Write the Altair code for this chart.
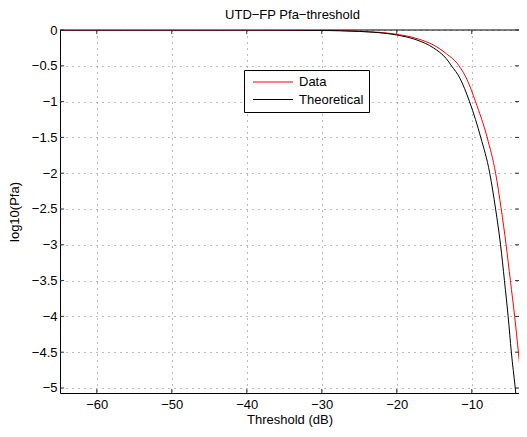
import altair as alt
import pandas as pd

# ---- data ----
title_text = "UTD−FP Pfa−threshold"
x_title = "Threshold (dB)"
y_title = "log10(Pfa)"
series_names = ["Data", "Theoretical"]
series_colors = ["#ff0000", "#000000"]

data_x = [-64.9, -50, -40, -35, -30, -25, -20, -17.3, -15.1, -13.4, -11.7, -10.6, -9.5,
          -7.95, -6.82, -6.07, -5.42, -4.85, -4.28, -3.78, -3.5]
data_y = [0, 0, 0, -0.002, -0.005, -0.018, -0.06, -0.12, -0.21, -0.33, -0.5, -0.7, -1.0,
          -1.5, -2.0, -2.5, -3.0, -3.5, -4.0, -4.5, -4.8]

theo_x = [-64.9, -50, -40, -35, -30, -25, -20, -17.3, -15.1, -13.4, -12.7, -11.6, -10.3,
          -9.5, -8.8, -7.6, -6.82, -6.16, -5.64, -5.15, -4.72, -4.2, -4.0]
theo_y = [0, 0, 0, -0.002, -0.006, -0.02, -0.07, -0.14, -0.25, -0.4, -0.5, -0.67, -1.0,
          -1.25, -1.5, -2.0, -2.5, -3.0, -3.5, -4.0, -4.5, -5.0, -5.2]

x_ticks = [-60, -50, -40, -30, -20, -10]
y_ticks = [0, -0.5, -1, -1.5, -2, -2.5, -3, -3.5, -4, -4.5, -5]
x_domain = [-64.9, -3.7]
y_domain = [-5.07, 0]

# ---- build tables ----
df = pd.concat([
    pd.DataFrame({"x": data_x, "y": data_y, "series": series_names[0]}),
    pd.DataFrame({"x": theo_x, "y": theo_y, "series": series_names[1]}),
], ignore_index=True)
xt = pd.DataFrame({"x": x_ticks})
yt = pd.DataFrame({"y": y_ticks})
top = pd.DataFrame({"y": [y_domain[1]]})

FONT = "Liberation Sans"
W, H = 459, 363
TL = 4

xs = alt.Scale(domain=x_domain, nice=False, zero=False)
ys = alt.Scale(domain=y_domain, nice=False, zero=False)
x_axis = alt.Axis(values=x_ticks, title=x_title, grid=True, ticks=False, tickSize=0,
                  labelPadding=5, titlePadding=2.5)
y_axis = alt.Axis(values=y_ticks, format="~g", title=y_title, grid=True, ticks=False,
                  tickSize=0, labelPadding=3, titlePadding=10)
X = alt.X("x:Q", scale=xs, axis=x_axis)
Y = alt.Y("y:Q", scale=ys, axis=y_axis)

lines = alt.Chart(df).mark_line(clip=True, strokeWidth=1, interpolate="monotone").encode(
    x=X, y=Y,
    color=alt.Color("series:N",
                    scale=alt.Scale(domain=series_names, range=series_colors),
                    legend=alt.Legend(orient="none", legendX=184, legendY=40, title=None,
                                      symbolType="stroke", symbolSize=1600,
                                      symbolStrokeWidth=1, clipHeight=13,
                                      symbolOffset=3,
                                      labelFont=FONT, labelFontSize=13, labelColor="black",
                                      padding=5.5, strokeColor="black", fillColor="white",
                                      rowPadding=3.5, labelOffset=5.5, cornerRadius=0)),
)

frame_top = alt.Chart(top).mark_rule(color="black", strokeWidth=1).encode(y=Y)
bottom_ticks = alt.Chart(xt).mark_rule(color="#333", strokeWidth=1).encode(
    x=X, y=alt.value(H), y2=alt.value(H - TL))
top_ticks = alt.Chart(xt).mark_rule(color="#333", strokeWidth=1).encode(
    x=X, y=alt.value(0), y2=alt.value(TL))
left_ticks = alt.Chart(yt).mark_rule(color="#333", strokeWidth=1).encode(
    y=Y, x=alt.value(0), x2=alt.value(TL))
right_ticks = alt.Chart(yt).mark_rule(color="#333", strokeWidth=1).encode(
    y=Y, x=alt.value(W), x2=alt.value(W - TL))

chart = alt.layer(
    frame_top, bottom_ticks, top_ticks, left_ticks, right_ticks, lines
).properties(
    width=W, height=H,
    title=alt.TitleParams(title_text, font=FONT, fontSize=13, fontWeight="normal",
                          color="black", anchor="middle", offset=2, dx=3),
    autosize=alt.AutoSizeParams(type="none"),
    padding={"left": 52, "top": 22, "right": 0, "bottom": 36},
).configure_view(
    stroke=None
).configure_axis(
    labelFont=FONT, labelFontSize=13, labelColor="black",
    titleFont=FONT, titleFontSize=13, titleFontWeight="normal", titleColor="black",
    domainColor="black", domainWidth=1,
    gridColor="#777", gridDash=[1, 5], gridWidth=1, gridOpacity=1,
)

chart.save("out.html", embed_options={"renderer": "svg", "actions": False})
